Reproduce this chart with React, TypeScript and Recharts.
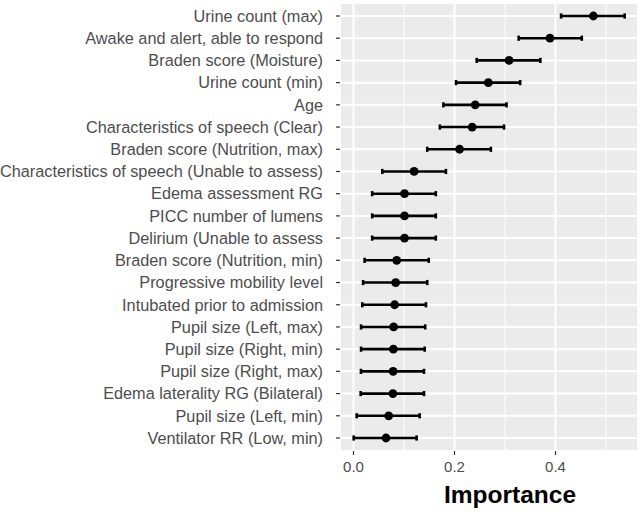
import React from 'react';
import {
  ComposedChart,
  Scatter,
  XAxis,
  YAxis,
  CartesianGrid,
  ErrorBar,
  ReferenceLine,
} from 'recharts';

const features = [
  'Urine count (max)',
  'Awake and alert, able to respond',
  'Braden score (Moisture)',
  'Urine count (min)',
  'Age',
  'Characteristics of speech (Clear)',
  'Braden score (Nutrition, max)',
  'Characteristics of speech (Unable to assess)',
  'Edema assessment RG',
  'PICC number of lumens',
  'Delirium (Unable to assess',
  'Braden score (Nutrition, min)',
  'Progressive mobility level',
  'Intubated prior to admission',
  'Pupil size (Left, max)',
  'Pupil size (Right, min)',
  'Pupil size (Right, max)',
  'Edema laterality RG (Bilateral)',
  'Pupil size (Left, min)',
  'Ventilator RR (Low, min)',
];

const importance = [
  0.475, 0.389, 0.308, 0.267, 0.241, 0.235, 0.21, 0.12, 0.101, 0.101, 0.101,
  0.0855, 0.0835, 0.0815, 0.0795, 0.079, 0.0785, 0.078, 0.0697, 0.0644,
];

const lower = [
  0.411, 0.327, 0.244, 0.203, 0.178, 0.171, 0.146, 0.057, 0.037, 0.037, 0.037,
  0.022, 0.019, 0.0175, 0.015, 0.015, 0.0148, 0.0142, 0.0063, 0.0004,
];

const upper = [
  0.537, 0.452, 0.37, 0.33, 0.303, 0.298, 0.272, 0.183, 0.163, 0.163, 0.163,
  0.149, 0.146, 0.1435, 0.142, 0.141, 0.1396, 0.1396, 0.131, 0.125,
];

const xTicks = [0, 0.2, 0.4];
const xMinorTicks = [0.1, 0.3, 0.5];
const xDomain = [-0.0267, 0.5633];

const data = features.map((name, i) => ({
  name,
  value: importance[i],
  err: [importance[i] - lower[i], upper[i] - importance[i]],
}));

const FONT = '"Liberation Sans", Arial, Helvetica, sans-serif';

const Dot = (props: any) => {
  const { cx, cy } = props;
  if (cx == null || cy == null) return null;
  return <circle cx={cx} cy={cy} r={4.4} fill="#000000" />;
};

const TitleLabel = (props: any) => {
  const vb = props.viewBox || {};
  const x = (vb.x || 0) + (vb.width || 0) / 2 + 21;
  const y = (vb.y || 0) + (vb.height || 0) - 11;
  return (
    <text
      x={x}
      y={y}
      textAnchor="middle"
      fontFamily={FONT}
      fontWeight="bold"
      fontSize={24.5}
      fill="#000000"
    >
      Importance
    </text>
  );
};

export default function App() {
  return (
    <div style={{ position: 'absolute', left: 0, top: 0, width: 641, height: 514, background: '#ffffff' }}>
      <ComposedChart
        width={641}
        height={514}
        data={data}
        layout="vertical"
        margin={{ top: 3, right: 3, bottom: 0, left: 0 }}
        style={{ fontFamily: FONT }}
      >
        <CartesianGrid
          fill="#EBEBEB"
          stroke="#FFFFFF"
          strokeWidth={2}
          strokeDasharray=""
        />
        {xMinorTicks.map((t) => (
          <ReferenceLine key={t} x={t} stroke="#FFFFFF" strokeWidth={1} />
        ))}
        <XAxis
          type="number"
          dataKey="value"
          domain={xDomain}
          allowDataOverflow
          ticks={xTicks}
          tickFormatter={(v: number) => v.toFixed(1)}
          axisLine={false}
          tickLine={{ stroke: '#333333', strokeWidth: 1.2 }}
          tickSize={4}
          tickMargin={6}
          height={63}
          tick={{ fill: '#4D4D4D', fontSize: 15, fontFamily: FONT }}
          label={<TitleLabel />}
        />
        <YAxis
          type="category"
          dataKey="name"
          width={340}
          interval={0}
          axisLine={false}
          tickLine={{ stroke: '#333333', strokeWidth: 1.2 }}
          tickSize={4}
          tickMargin={13}
          padding={{ top: 13, bottom: 13 }}
          tick={{ fill: '#4D4D4D', fontSize: 16.3, fontFamily: FONT }}
        />
        <Scatter dataKey="value" isAnimationActive={false} shape={<Dot />}>
          <ErrorBar
            dataKey="err"
            direction="x"
            width={2.6}
            stroke="#000000"
            strokeWidth={2.6}
            isAnimationActive={false}
          />
        </Scatter>
      </ComposedChart>
    </div>
  );
}
